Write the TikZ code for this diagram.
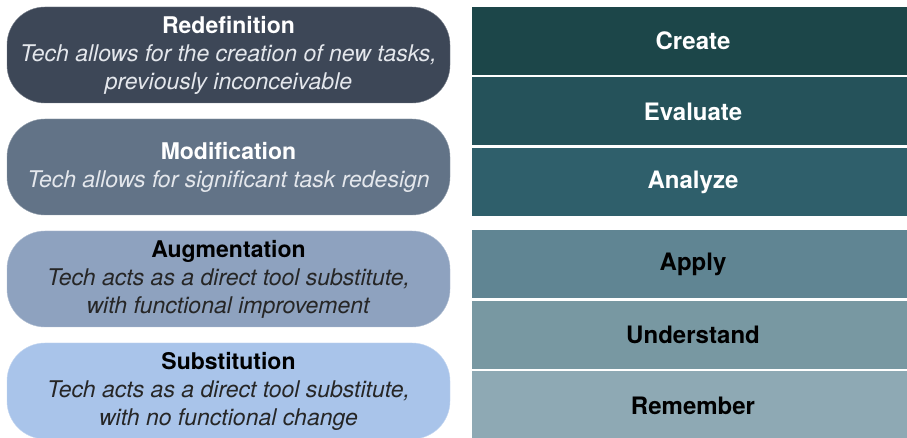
\documentclass[tikz,border=0pt]{standalone}
\usepackage{fontspec}
\setmainfont{TeX Gyre Heros}
\definecolor{redefcol}{HTML}{3D4757}
\definecolor{modcol}{HTML}{627387}
\definecolor{augcol}{HTML}{8EA2BF}
\definecolor{subcol}{HTML}{A9C4EA}
\definecolor{createcol}{HTML}{1C4649}
\definecolor{evalcol}{HTML}{25525A}
\definecolor{analyzecol}{HTML}{2F5F6B}
\definecolor{applycol}{HTML}{608593}
\definecolor{undercol}{HTML}{7898A2}
\definecolor{remcol}{HTML}{8EA9B4}
\definecolor{palecol}{HTML}{E4E7EC}
\tikzset{
    pill/.style={
        rounded corners=38pt,
        minimum width=443pt,
        minimum height=96pt,
        inner sep=0pt,
        align=center,
        font=\fontsize{23}{28}\selectfont
    },
    level/.style={
        minimum width=442pt,
        minimum height=68pt,
        inner sep=0pt,
        font=\fontsize{24}{28}\selectfont\bfseries
    }
}
\begin{document}
\begin{tikzpicture}[node distance=112pt]
            \useasboundingbox (0,0) rectangle (907pt,438pt);
            % SAMR
            \node[
                pill,
                fill=redefcol,
                draw=redefcol!70!white,
                text=palecol
            ] (redef) at (228.5pt,383pt) {\textbf{\color{white}Redefinition}\\
                \textit{Tech allows for the creation of new tasks,}\\
                \textit{previously inconceivable}};
            \node[
                pill,
                fill=modcol,
                draw=modcol!70!white,
                text=palecol,
                below of=redef
            ] (modif) {\textbf{\color{white}Modification}\\
                \textit{Tech allows for significant task redesign}};
            \node[
                pill,
                fill=augcol,
                draw=augcol!70!white,
                text=black!85,
                below of=modif
            ] (augm) {\textbf{\color{black}Augmentation}\\
                \textit{Tech acts as a direct tool substitute,}\\
                \textit{with functional improvement}};
            \node[
                pill,
                fill=subcol,
                draw=subcol!70!white,
                text=black!85,
                below of=augm
            ] (subst) {\textbf{\color{black}Substitution}\\
                \textit{Tech acts as a direct tool substitute,}\\
                \textit{with no functional change}};
            % Bloom
            \node[
                level,
                fill=createcol,
                text=white
            ] (create) at (693pt,397pt) {Create};
            \node[
                level,
                fill=evalcol,
                text=white,
                node distance=70.5pt,
                below of=create
            ] (evaluate) {Evaluate};
            \node[
                level,
                fill=analyzecol,
                text=white,
                node distance=70.5pt,
                below of=evaluate
            ] (analyze) {Analyze};
            \node[
                level,
                fill=applycol,
                text=black,
                node distance=82.5pt,
                below of=analyze
            ] (apply) {Apply};
            \node[
                level,
                fill=undercol,
                text=black,
                node distance=70.5pt,
                below of=apply
            ] (understand) {Understand};
            \node[
                level,
                fill=remcol,
                text=black,
                node distance=70.5pt,
                below of=understand
            ] (remember) {Remember};
        \end{tikzpicture}
\end{document}
